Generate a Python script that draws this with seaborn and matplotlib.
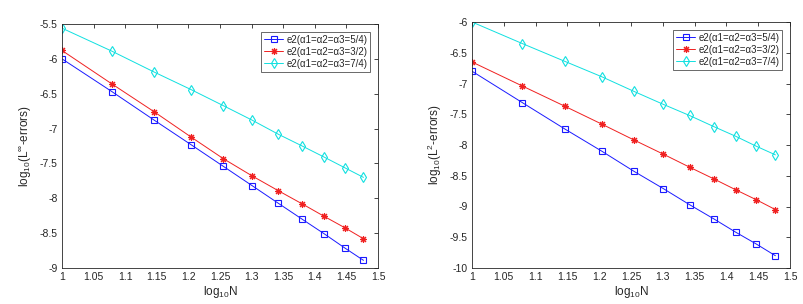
import numpy as np
import pandas as pd
import matplotlib
matplotlib.use('Agg')
import matplotlib.pyplot as plt
from matplotlib.ticker import FuncFormatter
import seaborn as sns

sns.set_style('white')
plt.rcParams['font.family'] = ['Liberation Sans', 'DejaVu Sans']
plt.rcParams['mathtext.fontset'] = 'custom'
plt.rcParams['mathtext.rm'] = 'Liberation Sans'
plt.rcParams['mathtext.it'] = 'Liberation Sans'
plt.rcParams['axes.unicode_minus'] = False

# log10(N), N = 10, 12, ..., 30
logN = [1.0, 1.079, 1.146, 1.204, 1.255, 1.301, 1.342, 1.380, 1.415, 1.447, 1.477]

labels = ['e2(α1=α2=α3=5/4)', 'e2(α1=α2=α3=3/2)', 'e2(α1=α2=α3=7/4)']

# L-infinity errors
linf_54 = [-6.00, -6.47, -6.88, -7.23, -7.54, -7.82, -8.07, -8.30, -8.51, -8.71, -8.89]
linf_32 = [-5.88, -6.36, -6.76, -7.12, -7.43, -7.68, -7.89, -8.08, -8.26, -8.42, -8.58]
linf_74 = [-5.56, -5.89, -6.19, -6.44, -6.67, -6.88, -7.08, -7.25, -7.41, -7.56, -7.70]

# L2 errors
l2_54 = [-6.80, -7.31, -7.74, -8.10, -8.43, -8.71, -8.97, -9.20, -9.42, -9.61, -9.80]
l2_32 = [-6.65, -7.04, -7.37, -7.66, -7.92, -8.15, -8.36, -8.55, -8.73, -8.89, -9.05]
l2_74 = [-6.00, -6.35, -6.64, -6.89, -7.13, -7.34, -7.52, -7.70, -7.86, -8.02, -8.16]

colors = ['#1a1aff', '#f02020', '#10e0e0']
markers = ['s', (8, 2, 0), 'd']

fig = plt.figure(figsize=(8.04, 3.04), dpi=100)
ax1 = fig.add_axes([62/804, 36/304, 316/804, 244/304])
ax2 = fig.add_axes([472/804, 36/304, 318/804, 246/304])


def draw(ax, series, ylim, yticks, ylabel):
    for ys, lab, c, m in zip(series, labels, colors, markers):
        df = pd.DataFrame({'x': logN, 'y': ys})
        sns.lineplot(data=df, x='x', y='y', ax=ax, color=c, marker=m, label=lab,
                     linewidth=0.7, markersize=5 if m != 'd' else 5.5,
                     markerfacecolor='none', markeredgecolor=c,
                     markeredgewidth=0.8)
    ax.set_xlim(1, 1.5)
    ax.set_ylim(*ylim)
    ax.set_xticks(np.arange(1, 1.501, 0.05))
    ax.set_yticks(yticks)
    fmt = FuncFormatter(lambda v, p: '%g' % round(v, 2))
    ax.xaxis.set_major_formatter(fmt)
    ax.yaxis.set_major_formatter(fmt)
    ax.tick_params(direction='in', length=3, width=0.6, labelsize=7.5,
                   top=True, right=True, colors='#262626', pad=3)
    for s in ax.spines.values():
        s.set_color('#262626')
        s.set_linewidth(0.6)
    ax.set_xlabel('log$_{10}$N', fontsize=8.5, color='#262626', labelpad=1)
    ax.set_ylabel(ylabel, fontsize=8.5, color='#262626', labelpad=4)
    leg = ax.legend(loc='upper right', fontsize=7, frameon=True, fancybox=False,
                    borderaxespad=0.8, handlelength=2.0, borderpad=0.3,
                    labelspacing=0.2, handletextpad=0.3)
    leg.get_frame().set_edgecolor('#262626')
    leg.get_frame().set_linewidth(0.6)


draw(ax1, [linf_54, linf_32, linf_74], (-9, -5.5), np.arange(-9, -5.49, 0.5),
     r'log$_{10}$(L$^{\infty}$-errors)')
draw(ax2, [l2_54, l2_32, l2_74], (-10, -6), np.arange(-10, -5.99, 0.5),
     r'log$_{10}$(L$^{2}$-errors)')

fig.savefig('out.png', dpi=100, facecolor='white')
